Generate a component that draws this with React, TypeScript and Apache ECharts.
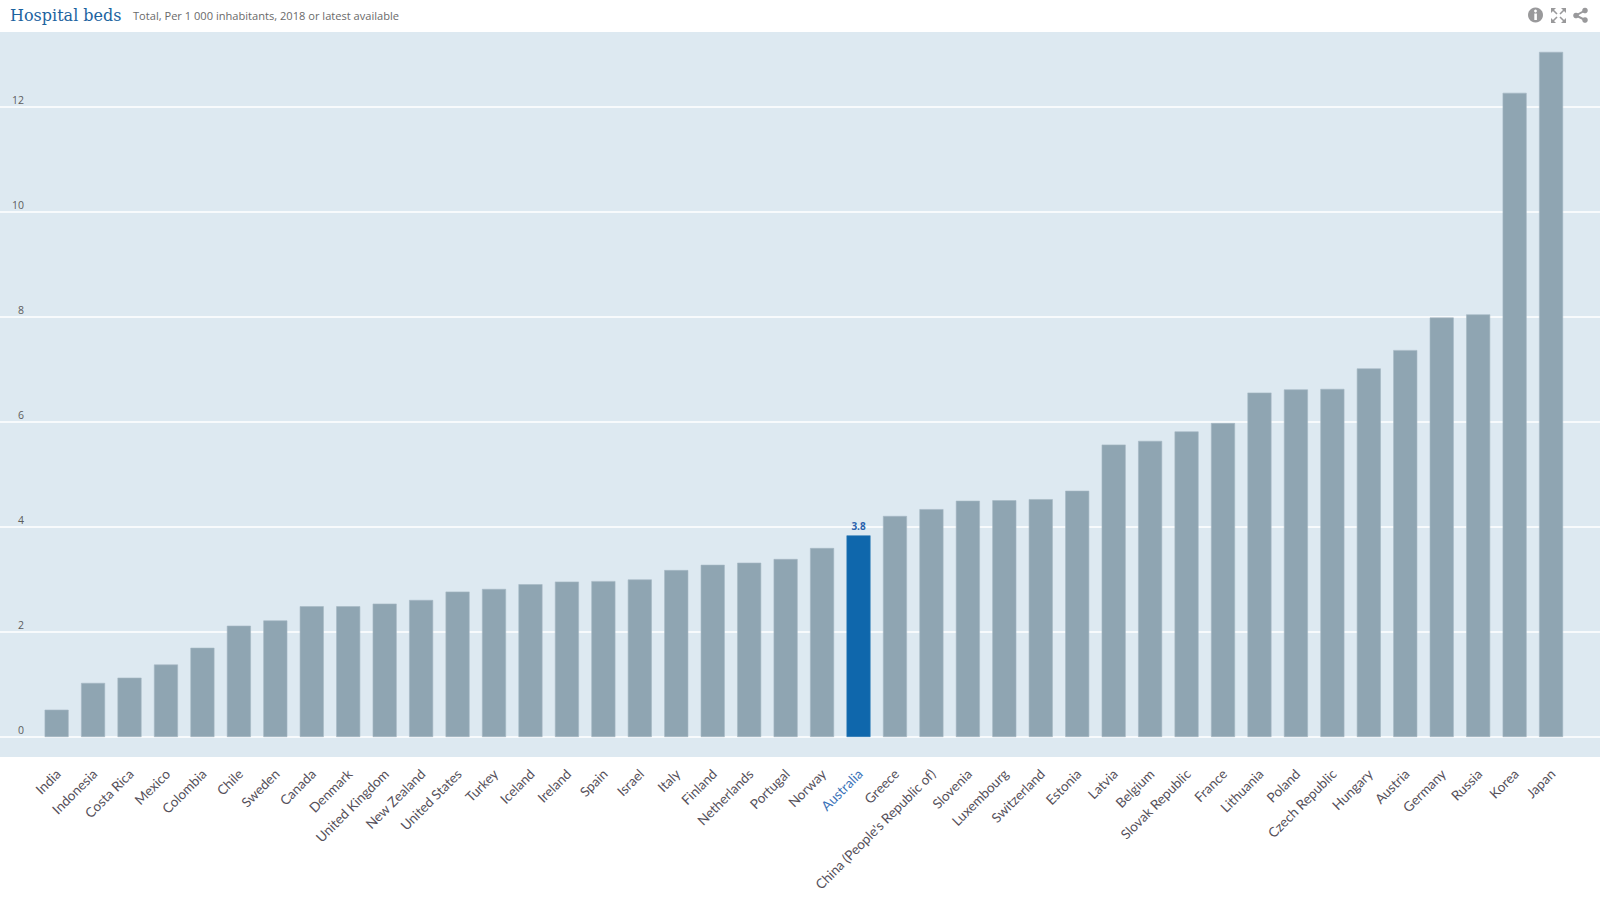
import React, { useEffect, useRef } from "react";
import * as echarts from "echarts";

const TITLE = "Hospital beds";
const SUBTITLE = "Total, Per 1 000 inhabitants, 2018 or latest available";
const HIGHLIGHT = "Australia";

const categories = [
  "India", "Indonesia", "Costa Rica", "Mexico", "Colombia", "Chile", "Sweden", "Canada", "Denmark", "United Kingdom",
  "New Zealand", "United States", "Turkey", "Iceland", "Ireland", "Spain", "Israel", "Italy", "Finland", "Netherlands",
  "Portugal", "Norway", "Australia", "Greece", "China (People's Republic of)", "Slovenia", "Luxembourg", "Switzerland", "Estonia", "Latvia",
  "Belgium", "Slovak Republic", "France", "Lithuania", "Poland", "Czech Republic", "Hungary", "Austria", "Germany", "Russia",
  "Korea", "Japan",
];
const values = [
  0.52, 1.03, 1.13, 1.38, 1.7, 2.12, 2.22, 2.49, 2.49, 2.54,
  2.61, 2.77, 2.82, 2.91, 2.96, 2.97, 3.0, 3.18, 3.28, 3.32,
  3.39, 3.6, 3.84, 4.21, 4.34, 4.5, 4.51, 4.53, 4.69, 5.57,
  5.64, 5.82, 5.98, 6.56, 6.62, 6.63, 7.02, 7.37, 7.99, 8.05,
  12.27, 13.05,
];

const Y_MAX = 705 / 52.5;
const SANS = "'Open Sans', 'Noto Sans', sans-serif";
const BLUE = "#0f67ac";
const ICON = "#99999b";

export default function App() {
  const ref = useRef<HTMLDivElement>(null);
  useEffect(() => {
    document.body.style.margin = "0";
    const chart = echarts.init(ref.current!, null, { renderer: "svg" });
    chart.setOption({
      animation: false,
      backgroundColor: "#ffffff",
      title: [
        { text: TITLE, left: 5, top: 2, textStyle: { fontFamily: "'DejaVu Serif', serif", fontSize: 16, fontWeight: "normal", color: "#1c639f" } },
        { text: SUBTITLE, left: 128, top: 4.5, textStyle: { fontFamily: SANS, fontSize: 11.1, fontWeight: "normal", color: "#6a6a6a" } },
      ],
      grid: [
        { left: 0, right: 0, top: 32, bottom: 143, show: true, backgroundColor: "#dde9f1", borderWidth: 0, z: 0 },
        { left: 0, right: 0, top: 32, bottom: 163, z: 1 },
        { left: 38.4, right: 30.7, top: 32, bottom: 163, z: 3 },
        { left: 40, right: 29.1, top: 32, bottom: 163, z: 4 },
      ],
      xAxis: [
        { gridIndex: 0, type: "value", show: false },
        { gridIndex: 1, type: "value", show: false },
        { gridIndex: 2, type: "category", data: categories, axisLine: { show: false }, axisTick: { show: false }, axisLabel: { show: false } },
        {
          gridIndex: 3,
          type: "category",
          data: categories,
          axisLine: { show: false },
          axisTick: { show: false },
          axisLabel: {
            interval: 0,
            rotate: 45,
            margin: 34.5,
            fontFamily: "Lato, 'Open Sans', sans-serif",
            fontSize: 13.5,
            color: (v: string) => (v === HIGHLIGHT ? "#3a72b8" : "#55505a"),
          },
        },
      ],
      yAxis: [
        { gridIndex: 0, type: "value", show: false },
        {
          gridIndex: 1,
          type: "value",
          min: 0,
          max: Y_MAX,
          interval: 2,
          position: "left",
          axisLine: { show: false },
          axisTick: { show: false },
          splitLine: { show: true, showMaxLine: false, lineStyle: { color: "#ffffff", width: 1.5 } },
          axisLabel: {
            inside: true,
            align: "right",
            verticalAlign: "bottom",
            margin: 24,
            padding: [0, 0, 2, 0],
            showMaxLabel: false,
            fontFamily: SANS,
            fontSize: 10.5,
            color: "#5c5c5c",
          },
        },
        { gridIndex: 2, type: "value", min: 0, max: Y_MAX, show: false, splitLine: { show: false } },
        { gridIndex: 3, type: "value", min: 0, max: Y_MAX, show: false, splitLine: { show: false } },
      ],
      series: [
        {
          type: "bar",
          xAxisIndex: 2,
          yAxisIndex: 2,
          barWidth: 24,
          z: 5,
          data: values.map((v, i) => {
            const hi = categories[i] === HIGHLIGHT;
            return {
              value: v,
              itemStyle: { color: hi ? BLUE : "#8fa5b2", borderColor: hi ? "#2a78b6" : "#a5b7c2", borderWidth: 0.6 },
              label: hi
                ? { show: true, position: "top", distance: 4, formatter: v.toFixed(1), fontFamily: SANS, fontSize: 10, fontWeight: "bold", color: "#2a62ad" }
                : { show: false },
            };
          }),
        },
      ],
      graphic: [
        { type: "circle", shape: { cx: 1535.5, cy: 15, r: 7.5 }, style: { fill: ICON } },
        { type: "circle", shape: { cx: 1535.5, cy: 11, r: 1.4 }, style: { fill: "#fff" } },
        { type: "rect", shape: { x: 1534.3, y: 13.5, width: 2.6, height: 6.5 }, style: { fill: "#fff" } },
        ...[
          [[1551, 8], [1551, 13], [1556, 8]],
          [[1566, 8], [1566, 13], [1561, 8]],
          [[1551, 23], [1551, 18], [1556, 23]],
          [[1566, 23], [1566, 18], [1561, 23]],
        ].map((p) => ({ type: "polygon", shape: { points: p }, style: { fill: ICON } })),
        ...[
          [1552, 9, 1557, 14],
          [1565, 9, 1560, 14],
          [1552, 22, 1557, 17],
          [1565, 22, 1560, 17],
        ].map(([x1, y1, x2, y2]) => ({ type: "line", shape: { x1, y1, x2, y2 }, style: { stroke: ICON, lineWidth: 1.6 } })),
        { type: "polyline", shape: { points: [[1585, 10.5], [1576, 15.5], [1585, 20]] }, style: { stroke: ICON, fill: "none", lineWidth: 2 } },
        { type: "circle", shape: { cx: 1585, cy: 10.5, r: 2.8 }, style: { fill: ICON } },
        { type: "circle", shape: { cx: 1576, cy: 15.5, r: 2.8 }, style: { fill: ICON } },
        { type: "circle", shape: { cx: 1585, cy: 20, r: 2.8 }, style: { fill: ICON } },
      ],
    });
    return () => chart.dispose();
  }, []);
  return <div ref={ref} style={{ position: "fixed", left: 0, top: 0, width: 1600, height: 900 }} />;
}
